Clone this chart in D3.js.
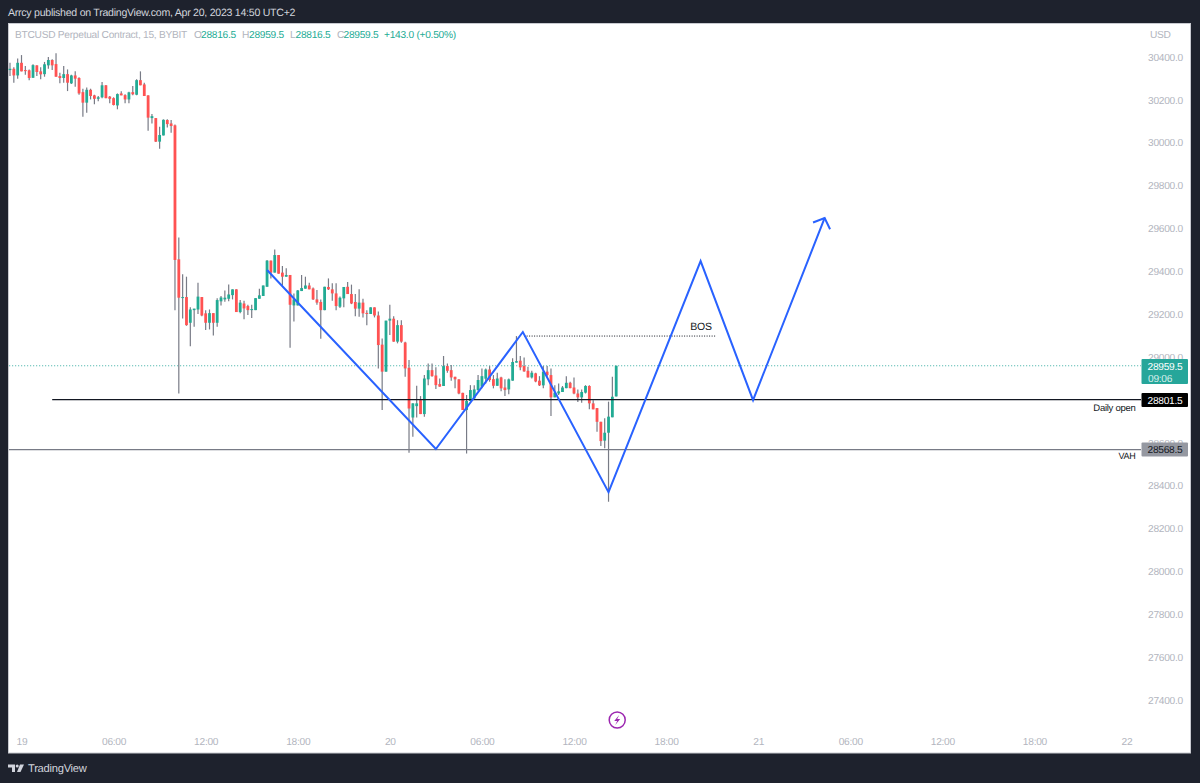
<!DOCTYPE html>
<html>
<head>
<meta charset="utf-8">
<script src="https://cdn.jsdelivr.net/npm/d3@7"></script>
<style>
  html, body { margin: 0; padding: 0; background: #1e222d; }
  svg { display: block; }
  text { font-family: "Liberation Sans", sans-serif; letter-spacing: -0.27px; text-rendering: geometricPrecision; }
</style>
</head>
<body>
<svg id="chart" width="1200" height="783"></svg>
<script>
// 15m candles, first bar is Apr 18 23:15 UTC
var firstBar = "2023-04-18T23:15:00Z";
var opens = [
  30339,30345,30314,30373,30339,30338,30303,30361,30333,30320,
  30361,30386,30367,30311,30302,30320,30277,30314,30302,30236,
  30187,30247,30221,30205,30212,30268,30215,30208,30174,30230,
  30222,30202,30236,30224,30292,30272,30221,30115,30115,30005,
  30034,30106,30090,30081,29456,29277,29280,29160,29219,29222,
  29280,29204,29160,29205,29160,29260,29269,29272,29289,29316,
  29210,29250,29238,29219,29219,29272,29285,29328,29450,29394,
  29476,29394,29375,29383,29241,29241,29308,29319,29334,29320,
  29269,29257,29219,29327,29316,29297,29235,29274,29328,29294,
  29257,29226,29254,29206,29201,29232,29194,29058,28932,29170,
  29179,29072,29149,29068,28950,28718,28771,28799,28734,28896,
  28939,28914,28874,28865,28958,28939,28908,28896,28833,28753,
  28795,28807,28846,28862,28899,28942,28897,28866,28905,28858,
  28849,28890,28974,28983,28958,28936,28905,28924,28890,28868,
  28932,28916,28812,28830,28837,28855,28880,28858,28830,28812,
  28834,28865,28784,28762,28698,28610,28647,28719,28816.5
];
var highs = [
  30373,30352,30393,30409,30358,30342,30366,30362,30352,30377,
  30400,30389,30417,30327,30358,30342,30317,30333,30305,30252,
  30258,30252,30224,30218,30283,30269,30218,30212,30230,30240,
  30226,30238,30265,30296,30333,30280,30221,30134,30115,30075,
  30109,30109,30106,30085,29558,29386,29375,29232,29226,29347,
  29280,29219,29222,29205,29275,29285,29310,29339,29316,29316,
  29266,29263,29244,29244,29275,29319,29334,29453,29450,29502,
  29476,29425,29414,29383,29297,29313,29383,29375,29347,29325,
  29313,29269,29328,29367,29344,29344,29282,29327,29350,29338,
  29294,29316,29272,29219,29232,29232,29213,29087,29170,29244,
  29190,29172,29172,29072,28986,28784,28866,28818,28916,28970,
  28970,28952,28900,29005,28970,28963,28908,28896,28833,28823,
  28869,28869,28916,28947,28947,28958,28916,28927,28908,28896,
  28900,28994,29098,29005,28998,28955,28936,28927,28911,28958,
  28958,28947,28868,28877,28865,28911,28885,28905,28849,28849,
  28869,28868,28799,28762,28698,28714,28792,28908,28959.5
];
var lows = [
  30311,30280,30299,30333,30317,30292,30303,30311,30296,30308,
  30345,30339,30308,30277,30280,30241,30274,30261,30224,30121,
  30140,30202,30179,30193,30208,30208,30184,30174,30156,30221,
  30184,30184,30221,30221,30268,30218,30056,30090,30003,29972,
  30034,30071,30047,29219,28830,29180,29146,29051,29141,29201,
  29191,29126,29129,29101,29141,29241,29258,29260,29269,29210,
  29204,29176,29196,29182,29219,29272,29285,29328,29366,29394,
  29389,29331,29375,29044,29166,29241,29308,29319,29316,29266,
  29244,29086,29219,29313,29263,29219,29229,29232,29294,29247,
  29191,29188,29185,29148,29201,29185,28947,28753,28932,29103,
  29072,29064,29067,28908,28554,28628,28718,28734,28722,28869,
  28908,28851,28862,28865,28927,28890,28854,28827,28753,28550,
  28795,28807,28843,28854,28877,28885,28854,28866,28841,28818,
  28827,28890,28974,28939,28932,28905,28900,28883,28865,28855,
  28908,28725,28812,28823,28837,28854,28854,28827,28790,28787,
  28830,28756,28756,28651,28585,28574,28325,28719,28816.5
];
var closes = [
  30345,30314,30373,30333,30334,30302,30362,30330,30319,30366,
  30386,30361,30308,30302,30320,30280,30314,30299,30230,30187,
  30247,30218,30205,30212,30268,30208,30205,30176,30227,30221,
  30202,30235,30226,30292,30268,30218,30117,30124,30005,30036,
  30107,30087,30078,29453,29277,29280,29149,29222,29226,29282,
  29194,29160,29205,29160,29266,29278,29277,29292,29316,29210,
  29254,29227,29219,29224,29275,29288,29334,29450,29394,29476,
  29389,29375,29383,29244,29269,29311,29322,29334,29316,29269,
  29254,29219,29328,29316,29297,29238,29277,29327,29294,29250,
  29226,29254,29204,29201,29232,29194,29056,28932,29170,29179,
  29072,29149,29072,28947,28760,28784,28784,28734,28900,28939,
  28911,28869,28862,28958,28936,28905,28896,28830,28753,28795,
  28846,28849,28893,28911,28942,28893,28866,28900,28854,28846,
  28896,28977,28981,28952,28933,28905,28927,28886,28868,28932,
  28916,28812,28834,28840,28858,28880,28855,28830,28812,28837,
  28865,28784,28756,28698,28608,28647,28722,28815,28959.5
];

// axis ticks
var priceTicks = [27400,27600,27800,28000,28200,28400,28600,28800,29000,29200,29400,29600,29800,30000,30200,30400];
var timeTicks = ["2023-04-19T00:00Z","2023-04-19T06:00Z","2023-04-19T12:00Z","2023-04-19T18:00Z","2023-04-20T00:00Z","2023-04-20T06:00Z","2023-04-20T12:00Z","2023-04-20T18:00Z","2023-04-21T00:00Z","2023-04-21T06:00Z","2023-04-21T12:00Z","2023-04-21T18:00Z","2023-04-22T00:00Z"];
var timeLabels = ["19","06:00","12:00","18:00","20","06:00","12:00","18:00","21","06:00","12:00","18:00","22"];
var hiddenPriceTicks = [28800]; // sits behind the daily open label

// drawings on the chart
var pathTimes = ["2023-04-19T16:00Z","2023-04-20T03:00Z","2023-04-20T08:40Z","2023-04-20T14:15Z","2023-04-20T20:15Z","2023-04-20T23:40Z","2023-04-21T04:20Z"];
var pathPrices = [29406,28571,29117,28370,29448,28799,29649];
var lastPrice = 28959.5, dailyOpen = 28801.5, vah = 28568.5, bosPrice = 29098;
var dailyOpenStart = "2023-04-19T02:00Z";
var bosTimes = ["2023-04-20T08:45Z","2023-04-20T21:15Z"];
var newsTime = "2023-04-20T14:45Z";

var width = 1200, height = 783;
var plotLeft = 9, plotTop = 24, plotRight = 1190.5, plotBottom = 753, axisLeft = 1141;
var upColor = "#22ab94", downColor = "#ff5252", wickColor = "#787b86", lineBlue = "#2962ff";
var axisText = "#b2b5be";
var labelSize = 10.2;

var svg = d3.select("#chart");

var x = d3.scaleUtc()
    .domain([new Date("2023-04-19T00:00Z"), new Date("2023-04-22T00:00Z")])
    .range([21.5, 1126.5]);
var y = d3.scaleLinear()
    .domain([27400, 30400])
    .range([700, 57]);

svg.append("rect").attr("width", width).attr("height", height).attr("fill", "#1e222d");
svg.append("rect")
    .attr("x", plotLeft - 0.5).attr("y", plotTop - 0.5)
    .attr("width", plotRight - plotLeft + 0.5).attr("height", plotBottom - plotTop + 0.5)
    .attr("fill", "#fff").attr("stroke", "#c8cad0").attr("stroke-width", 1);

// header
svg.append("text").attr("x", 8).attr("y", 16).attr("fill", "#d1d4dc").attr("font-size", 10.6)
    .text("Arrcy published on TradingView.com, Apr 20, 2023 14:50 UTC+2");

// legend
var legendY = 38;
svg.append("text").attr("x", 15).attr("y", legendY).attr("fill", axisText).attr("font-size", labelSize)
    .text("BTCUSD Perpetual Contract, 15, BYBIT");
var legendParts = [
  ["O", 194, axisText], ["28816.5", 201, upColor],
  ["H", 242, axisText], ["28959.5", 249, upColor],
  ["L", 290, axisText], ["28816.5", 295.5, upColor],
  ["C", 337, axisText], ["28959.5", 343.5, upColor],
  ["+143.0 (+0.50%)", 384, upColor]
];
legendParts.forEach(function(p) {
    svg.append("text").attr("x", p[1]).attr("y", legendY).attr("fill", p[2]).attr("font-size", labelSize).text(p[0]);
});
svg.append("text").attr("x", 1150).attr("y", legendY).attr("fill", axisText).attr("font-size", labelSize).text("USD");

// axes
var yAxis = d3.axisRight(y)
    .tickValues(priceTicks.filter(function(d) { return hiddenPriceTicks.indexOf(d) < 0; }))
    .tickSize(0).tickPadding(0)
    .tickFormat(d3.format(".1f"));
var yG = svg.append("g").attr("transform", "translate(1148,0)").call(yAxis);
yG.select(".domain").remove();
yG.selectAll("text").attr("fill", axisText).attr("font-size", labelSize)
    .style("font-family", '"Liberation Sans", sans-serif');

var tickDates = timeTicks.map(function(d) { return new Date(d); });
var xAxis = d3.axisBottom(x)
    .tickValues(tickDates)
    .tickSize(0).tickPadding(0)
    .tickFormat(function(d, i) { return timeLabels[i]; });
var xG = svg.append("g").attr("transform", "translate(0,737.5)").call(xAxis);
xG.select(".domain").remove();
xG.selectAll("text").attr("fill", axisText).attr("font-size", labelSize)
    .style("font-family", '"Liberation Sans", sans-serif');

// last price dotted line, goes under the candles
svg.append("line")
    .attr("x1", plotLeft).attr("x2", axisLeft)
    .attr("y1", y(lastPrice)).attr("y2", y(lastPrice))
    .attr("stroke", "#26a69a").attr("stroke-width", 1.1).attr("stroke-dasharray", "1.2 1.8").attr("opacity", 0.75);

// candles
var start = new Date(firstBar);
var bars = opens.map(function(o, i) {
    return { t: d3.utcMinute.offset(start, 15 * i), o: o, h: highs[i], l: lows[i], c: closes[i] };
});
var candle = svg.append("g").selectAll("g").data(bars).enter().append("g");
candle.append("line")
    .attr("x1", function(d) { return x(d.t); })
    .attr("x2", function(d) { return x(d.t); })
    .attr("y1", function(d) { return y(d.h); })
    .attr("y2", function(d) { return y(d.l); })
    .attr("stroke", wickColor).attr("stroke-width", 1.2);
candle.append("rect")
    .attr("x", function(d) { return x(d.t) - 1.4; })
    .attr("width", 2.8)
    .attr("y", function(d) { return y(Math.max(d.o, d.c)); })
    .attr("height", function(d) { return Math.max(1, Math.abs(y(d.o) - y(d.c))); })
    .attr("fill", function(d) { return d.c >= d.o ? upColor : downColor; });

// level lines
svg.append("line")
    .attr("x1", x(new Date(dailyOpenStart))).attr("x2", axisLeft)
    .attr("y1", y(dailyOpen)).attr("y2", y(dailyOpen))
    .attr("stroke", "#131722").attr("stroke-width", 1.2);
svg.append("line")
    .attr("x1", plotLeft).attr("x2", axisLeft)
    .attr("y1", y(vah)).attr("y2", y(vah))
    .attr("stroke", "#787b86").attr("stroke-width", 1.2);

// BOS line
svg.append("line")
    .attr("x1", x(new Date(bosTimes[0]))).attr("x2", x(new Date(bosTimes[1])))
    .attr("y1", y(bosPrice)).attr("y2", y(bosPrice))
    .attr("stroke", "#131722").attr("stroke-width", 1).attr("stroke-dasharray", "1 1.5");
svg.append("text").attr("x", x(new Date(bosTimes[1])) - 15).attr("y", y(bosPrice) - 6)
    .attr("text-anchor", "middle").attr("fill", "#131722").attr("font-size", 10.5).text("BOS");

// projected path with an arrow head
var pts = pathTimes.map(function(t, i) { return [x(new Date(t)), y(pathPrices[i])]; });
var lineGen = d3.line();
svg.append("path").attr("d", lineGen(pts))
    .attr("fill", "none").attr("stroke", lineBlue).attr("stroke-width", 2).attr("stroke-linejoin", "miter");
var tip = pts[pts.length - 1], prev = pts[pts.length - 2];
var back = Math.atan2(prev[1] - tip[1], prev[0] - tip[0]);
var spread = 47 * Math.PI / 180, wing = 12.5;
svg.append("path")
    .attr("d", lineGen([
        [tip[0] + wing * Math.cos(back + spread), tip[1] + wing * Math.sin(back + spread)],
        tip,
        [tip[0] + wing * Math.cos(back - spread), tip[1] + wing * Math.sin(back - spread)]
    ]))
    .attr("fill", "none").attr("stroke", lineBlue).attr("stroke-width", 2);

// notes next to the levels
svg.append("text").attr("x", 1135.5).attr("y", y(dailyOpen) + 11).attr("text-anchor", "end")
    .attr("fill", "#131722").attr("font-size", 9.5).text("Daily open");
svg.append("text").attr("x", 1135.5).attr("y", y(vah) + 9.5).attr("text-anchor", "end")
    .attr("fill", "#131722").attr("font-size", 9).text("VAH");

// price labels on the scale
var priceFmt = d3.format(".1f");
function priceLabel(value, top, h, fill, color) {
    svg.append("rect").attr("x", 1141.5).attr("y", top).attr("width", 46.5).attr("height", h).attr("rx", 1).attr("fill", fill);
    svg.append("text").attr("x", 1165).attr("y", top + 10.5).attr("text-anchor", "middle")
        .attr("fill", color).attr("font-size", labelSize).text(priceFmt(value));
}
priceLabel(lastPrice, y(lastPrice) - 6.7, 25, "#26a69a", "#fff");
svg.append("text").attr("x", 1148).attr("y", y(lastPrice) + 15.8).attr("fill", "#d7f0ed").attr("font-size", 10.2).text("09:06");
priceLabel(dailyOpen, y(dailyOpen) - 6.5, 14, "#000", "#fff");
priceLabel(vah, y(vah) - 7, 14, "#9598a1", "#131722");

// news icon
var nx = x(new Date(newsTime)) + 1, ny = 720;
svg.append("circle").attr("cx", nx).attr("cy", ny).attr("r", 8).attr("fill", "#fff").attr("stroke", "#9c27b0").attr("stroke-width", 1.5);
svg.append("path")
    .attr("d", "M" + (nx + 2) + " " + (ny - 5) + "L" + (nx - 3) + " " + (ny + 1) + "H" + (nx) + "L" + (nx - 2) + " " + (ny + 5) + "L" + (nx + 3) + " " + (ny - 1) + "H" + nx + "Z")
    .attr("fill", "#9c27b0");

// footer logo
var logo = svg.append("g").attr("fill", "#d1d4dc");
logo.append("path").attr("d", "M8 764.5H15V772H12V767.5H8Z");
logo.append("circle").attr("cx", 17.2).attr("cy", 766).attr("r", 1.5);
logo.append("path").attr("d", "M20 764.5H24L20.5 772H17Z");
svg.append("text").attr("x", 28).attr("y", 772).attr("fill", "#d1d4dc").attr("font-size", 11.2).text("TradingView");
</script>
</body>
</html>
